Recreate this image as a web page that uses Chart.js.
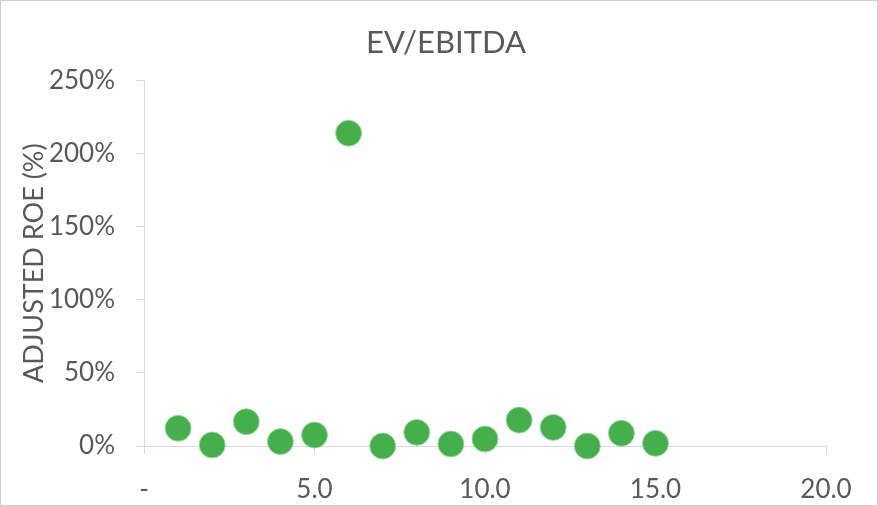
<!DOCTYPE html>
<html>
<head>
<meta charset="utf-8">
<script src="https://cdn.jsdelivr.net/npm/chart.js@4"></script>
<style>
  html, body { margin: 0; padding: 0; background: #fff; }
  #wrap { position: relative; width: 876px; height: 504px; border: 1px solid #d0d0d0; }
</style>
</head>
<body>
<div id="wrap"><canvas id="roeChart"></canvas></div>
<script>
// EV/EBITDA multiple (x) and adjusted ROE in % (y)
const evEbitda = [1, 2, 3, 4, 5, 6, 7, 8, 9, 10, 11, 12, 13, 14, 15];
const adjustedRoe = [12.1, 0.7, 16.6, 3.0, 7.5, 213.8, 0.0, 9.3, 1.4, 4.8, 17.7, 12.7, 0.0, 8.7, 1.8];

const textColor = '#595959';
const lineColor = '#d9d9d9';
const fontFamily = 'Lato, "Open Sans", sans-serif';

function drawRoeChart() {
    const ctx = document.getElementById('roeChart').getContext('2d');
    const points = evEbitda.map((x, i) => ({ x: x, y: adjustedRoe[i] }));

    new Chart(ctx, {
        type: 'scatter',
        data: {
            datasets: [{
                label: 'Adjusted ROE',
                data: points,
                backgroundColor: '#45b04b',
                borderColor: 'rgba(160, 215, 163, 0.9)',
                borderWidth: 1,
                pointRadius: 13,
                pointHoverRadius: 13,
                clip: false
            }]
        },
        options: {
            responsive: true,
            maintainAspectRatio: false,
            animation: false,
            layout: { padding: { left: 14, right: 0, top: 0, bottom: 0 } },
            plugins: {
                legend: { display: false },
                tooltip: { enabled: false },
                title: {
                    display: true,
                    text: 'EV/EBITDA',
                    color: textColor,
                    font: { family: fontFamily, size: 31, weight: 'normal' },
                    padding: { top: 23, bottom: 19 }
                }
            },
            scales: {
                x: {
                    type: 'linear',
                    min: 0,
                    max: 20,
                    border: { color: lineColor, width: 1 },
                    grid: { drawOnChartArea: false, drawTicks: true, tickLength: 8, color: lineColor },
                    ticks: {
                        stepSize: 5,
                        padding: 20,
                        color: textColor,
                        font: { family: fontFamily, size: 26 },
                        maxRotation: 0,
                        callback: value => value === 0 ? '-' : value.toFixed(1)
                    },
                    afterFit: scale => {
                        scale.height = 59;
                        scale.paddingRight = 51;
                    }
                },
                y: {
                    min: 0,
                    max: 250,
                    border: { color: lineColor, width: 1 },
                    grid: { drawOnChartArea: false, drawTicks: true, tickLength: 8, color: lineColor },
                    ticks: {
                        stepSize: 50,
                        padding: 21,
                        color: textColor,
                        font: { family: fontFamily, size: 26 },
                        callback: value => value + '%'
                    },
                    title: {
                        display: true,
                        text: 'ADJUSTED ROE (%)',
                        color: textColor,
                        font: { family: fontFamily, size: 27, weight: 'normal' },
                        padding: { top: 3, bottom: 0 }
                    },
                    afterFit: scale => { scale.width = 129; }
                }
            }
        }
    });
}

drawRoeChart();
</script>
</body>
</html>
